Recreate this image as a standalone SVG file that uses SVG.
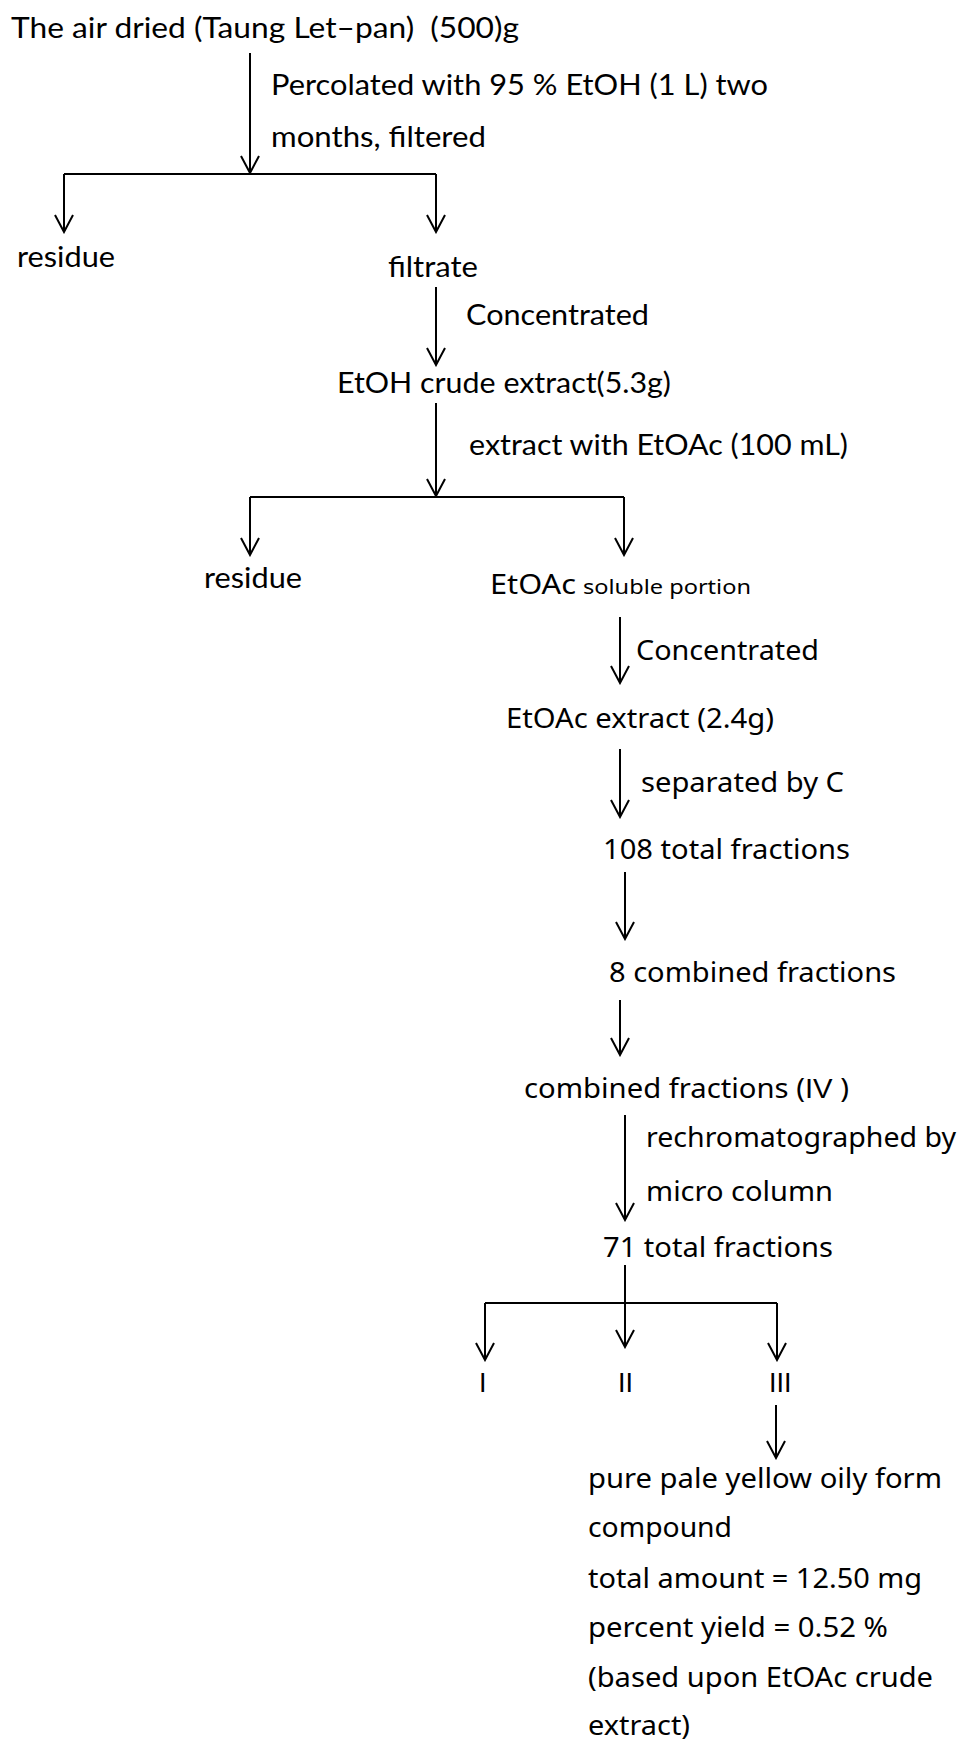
<svg xmlns="http://www.w3.org/2000/svg" width="961" height="1741" viewBox="0 0 961 1741">
<style>
.t1{font-family:Lato,"Liberation Sans",sans-serif;font-size:28px;fill:#000}
.t2{font-family:"Noto Sans","Liberation Sans",sans-serif;font-size:27px;fill:#000}
.rn{font-family:"Liberation Sans",Arial,sans-serif;font-size:27px;fill:#000}
.sm{font-size:20px}
.ln{stroke:#000;stroke-width:2;fill:none}
.ar{stroke:#000;stroke-width:2;fill:none;marker-end:url(#v)}
</style>
<defs>
<marker id="v" markerUnits="userSpaceOnUse" viewBox="-19 -11 21 22" refX="0" refY="0" markerWidth="21" markerHeight="22" orient="auto">
<path d="M-17,-9 L0,0 L-17,9" stroke="#000" stroke-width="2" fill="none"/>
</marker>
</defs>
<rect width="961" height="1741" fill="#fff"/>
<g id="connectors">
<line class="ar" x1="250" y1="53" x2="250" y2="173"/>
<line class="ln" x1="64" y1="174" x2="436" y2="174"/>
<line class="ar" x1="64" y1="174" x2="64" y2="232"/>
<line class="ar" x1="436" y1="174" x2="436" y2="232"/>
<line class="ar" x1="436" y1="287" x2="436" y2="365"/>
<line class="ar" x1="436" y1="403" x2="436" y2="496"/>
<line class="ln" x1="250" y1="497" x2="624" y2="497"/>
<line class="ar" x1="250" y1="497" x2="250" y2="555"/>
<line class="ar" x1="624" y1="497" x2="624" y2="555"/>
<line class="ar" x1="620" y1="617" x2="620" y2="683"/>
<line class="ar" x1="620" y1="749" x2="620" y2="817"/>
<line class="ar" x1="625" y1="872" x2="625" y2="939"/>
<line class="ar" x1="620" y1="1000" x2="620" y2="1055"/>
<line class="ar" x1="625" y1="1115" x2="625" y2="1220"/>
<line class="ar" x1="625" y1="1265" x2="625" y2="1347"/>
<line class="ln" x1="485" y1="1303" x2="777" y2="1303"/>
<line class="ar" x1="485" y1="1303" x2="485" y2="1360"/>
<line class="ar" x1="777" y1="1303" x2="777" y2="1360"/>
<line class="ar" x1="776" y1="1405" x2="776" y2="1458"/>
</g>
<g id="n-start"><text class="t1" x="11" y="38" xml:space="preserve" textLength="508" lengthAdjust="spacingAndGlyphs">The air dried (Taung Let–pan)  (500)g</text></g>
<g id="l-percolate">
<text class="t1" x="271" y="95" textLength="497" lengthAdjust="spacingAndGlyphs">Percolated with 95 % EtOH (1 L) two</text>
<text class="t1" x="271" y="147" textLength="215" lengthAdjust="spacingAndGlyphs">months, filtered</text>
</g>
<g id="n-residue1"><text class="t1" x="17" y="267" textLength="98" lengthAdjust="spacingAndGlyphs">residue</text></g>
<g id="n-filtrate"><text class="t1" x="388" y="277" textLength="90" lengthAdjust="spacingAndGlyphs">filtrate</text></g>
<g id="l-conc1"><text class="t1" x="466" y="325" textLength="183" lengthAdjust="spacingAndGlyphs">Concentrated</text></g>
<g id="n-etoh"><text class="t1" x="337" y="393" textLength="334" lengthAdjust="spacingAndGlyphs">EtOH crude extract(5.3g)</text></g>
<g id="l-extract"><text class="t1" x="469" y="455" textLength="379" lengthAdjust="spacingAndGlyphs">extract with EtOAc (100 mL)</text></g>
<g id="n-residue2"><text class="t1" x="204" y="588" textLength="98" lengthAdjust="spacingAndGlyphs">residue</text></g>
<g id="n-soluble">
<text class="t2" x="490" y="594" textLength="86" lengthAdjust="spacingAndGlyphs">EtOAc</text>
<text class="t2 sm" x="583" y="594" textLength="168" lengthAdjust="spacingAndGlyphs">soluble portion</text>
</g>
<g id="l-conc2"><text class="t2" x="636" y="660" textLength="183" lengthAdjust="spacingAndGlyphs">Concentrated</text></g>
<g id="n-etoac"><text class="t2" x="506" y="728" textLength="268" lengthAdjust="spacingAndGlyphs">EtOAc extract (2.4g)</text></g>
<g id="l-sep"><text class="t2" x="641" y="792" textLength="203" lengthAdjust="spacingAndGlyphs">separated by C</text></g>
<g id="n-108"><text class="t2" x="603" y="859" textLength="247" lengthAdjust="spacingAndGlyphs">108 total fractions</text></g>
<g id="n-8"><text class="t2" x="609" y="982" textLength="287" lengthAdjust="spacingAndGlyphs">8 combined fractions</text></g>
<g id="n-iv"><text class="t2" x="524" y="1098" textLength="325" lengthAdjust="spacingAndGlyphs">combined fractions (<tspan class="rn">IV</tspan> )</text></g>
<g id="l-rechrom">
<text class="t2" x="646" y="1147" textLength="310" lengthAdjust="spacingAndGlyphs">rechromatographed by</text>
<text class="t2" x="646" y="1201" textLength="187" lengthAdjust="spacingAndGlyphs">micro column</text>
</g>
<g id="n-71"><text class="t2" x="603" y="1257" textLength="230" lengthAdjust="spacingAndGlyphs">71 total fractions</text></g>
<g id="n-I"><text class="rn" x="479" y="1392">I</text></g>
<g id="n-II"><text class="rn" x="618" y="1392">II</text></g>
<g id="n-III"><text class="rn" x="769" y="1392">III</text></g>
<g id="n-result">
<text class="t2" x="588" y="1488" textLength="354" lengthAdjust="spacingAndGlyphs">pure pale yellow oily form</text>
<text class="t2" x="588" y="1537" textLength="144" lengthAdjust="spacingAndGlyphs">compound</text>
<text class="t2" x="588" y="1588" textLength="334" lengthAdjust="spacingAndGlyphs">total amount = 12.50 mg</text>
<text class="t2" x="588" y="1637" textLength="300" lengthAdjust="spacingAndGlyphs">percent yield = 0.52 %</text>
<text class="t2" x="588" y="1687" textLength="345" lengthAdjust="spacingAndGlyphs">(based upon EtOAc crude</text>
<text class="t2" x="588" y="1735" textLength="102" lengthAdjust="spacingAndGlyphs">extract)</text>
</g>
</svg>
